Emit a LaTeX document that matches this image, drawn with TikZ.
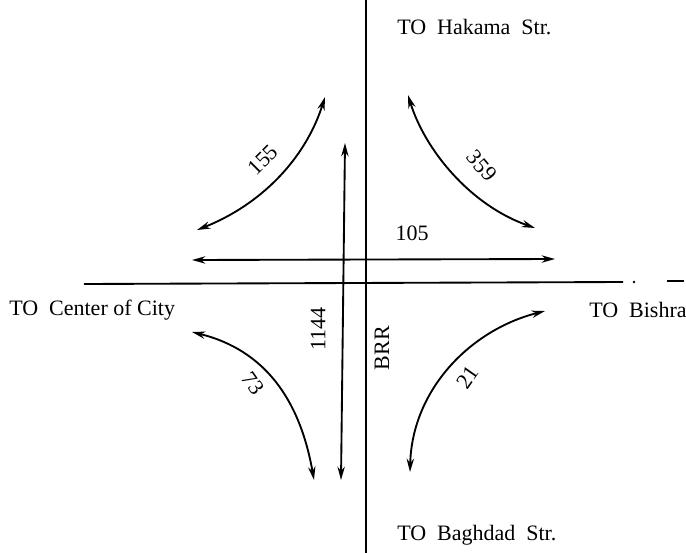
\documentclass[tikz,border=0pt]{standalone}
\usepackage{fontspec}
\setmainfont{Liberation Serif}
\usetikzlibrary{arrows.meta}

\begin{document}
\begin{tikzpicture}[x=0.75pt,y=-0.75pt,font=\fontsize{16.5}{19}\selectfont,
  road/.style={line width=1.4pt},
  flow/.style={line width=1.4pt,{Stealth[length=10pt,width=5.5pt]}-{Stealth[length=10pt,width=5.5pt]}},
  count/.style={inner sep=1pt}]
\useasboundingbox (0,0) rectangle (686,553);
% roads
\coordinate (n) at (366,0); \coordinate (s) at (366,553);
\coordinate (w) at (84,284); \coordinate (e) at (623,282);
\coordinate (e1) at (667,281); \coordinate (e2) at (684,281);
\draw[road] (n) -- (s);
\draw[road] (w) -- (e);
\fill (634,282) circle (1.4);
\draw[road] (e1) -- (e2);
% through movements
\coordinate (a1) at (192,260); \coordinate (a2) at (555,259);
\draw[flow] (a1) -- (a2);
\node[count] (c105) at (412,233) {105};
\coordinate (b1) at (345,143); \coordinate (b2) at (341,480);
\draw[flow] (b1) -- (b2);
\node[count,rotate=90] (c1144) at (318,329) {1144};
\node[count,rotate=90] (brr) at (382,348) {BRR};
% turning movements
\coordinate (nw1) at (197,230); \coordinate (nw2) at (325,97);
\draw[flow] (nw1) .. controls (260,205) and (305,160) .. (nw2);
\node[count,rotate=45] (c155) at (263,160) {155};
\coordinate (ne1) at (408,95); \coordinate (ne2) at (535,228);
\draw[flow] (ne1) .. controls (425,150) and (470,205) .. (ne2);
\node[count,rotate=-50] (c359) at (482,166) {359};
\coordinate (sw1) at (192,332); \coordinate (sw2) at (314,480);
\draw[flow] (sw1) .. controls (265,350) and (300,400) .. (sw2);
\node[count,rotate=-55] (c73) at (253,383) {73};
\coordinate (se1) at (410,472); \coordinate (se2) at (545,311);
\draw[flow] (se1) .. controls (412,390) and (470,330) .. (se2);
\node[count,rotate=55] (c21) at (468,377) {21};
% destinations
\node[anchor=west,inner sep=0pt] (hakama) at (397,27) {TO\ \ Hakama\ \ Str.};
\node[anchor=west,inner sep=0pt] (center) at (9,310) {TO\ \ Center of City};
\node[anchor=west,inner sep=0pt] (bishra) at (589,310) {TO\ \ Bishra};
\node[anchor=west,inner sep=0pt] (baghdad) at (397,535) {TO\ \ Baghdad\ \ Str.};
\end{tikzpicture}
\end{document}
